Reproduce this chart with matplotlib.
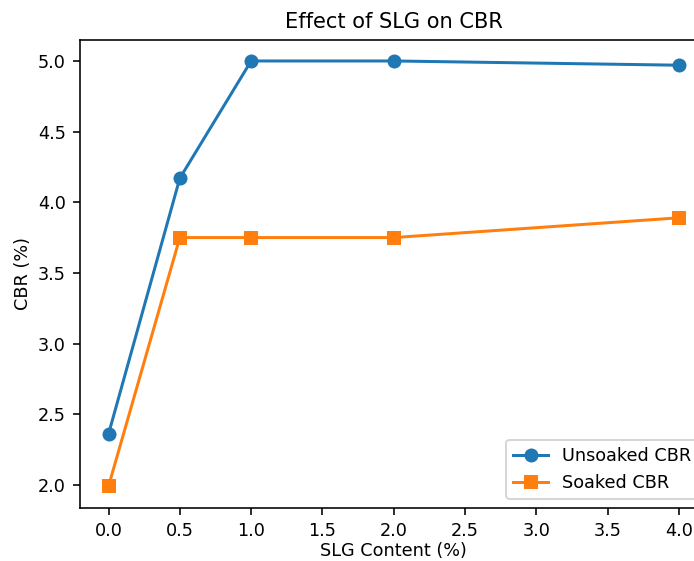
import matplotlib
matplotlib.use('Agg')
import matplotlib.pyplot as plt

# SLG content and CBR values
slg_content = [0.0, 0.5, 1.0, 2.0, 4.0]
unsoaked_cbr = [2.36, 4.17, 5.0, 5.0, 4.97]
soaked_cbr = [1.99, 3.75, 3.75, 3.75, 3.89]
x_ticks = [0.0, 0.5, 1.0, 1.5, 2.0, 2.5, 3.0, 3.5, 4.0]

plt.rcParams['font.size'] = 8.8

dpi = 144
fig = plt.figure(figsize=(694 / dpi, 561 / dpi), dpi=dpi)
# axes runs past the right edge, as in the cropped reference
ax = fig.add_axes([80 / 694, 53.5 / 561, 627.5 / 694, 467.8 / 561])

ax.plot(slg_content, unsoaked_cbr, marker='o', label='Unsoaked CBR')
ax.plot(slg_content, soaked_cbr, marker='s', label='Soaked CBR')
ax.set_xticks(x_ticks)
ax.set_xlabel('SLG Content (%)', labelpad=1.5)
ax.set_ylabel('CBR (%)', labelpad=3)
ax.set_title('Effect of SLG on CBR', fontsize=10.5)
ax.legend(loc='lower right')

fig.savefig('out.png', dpi=dpi)
